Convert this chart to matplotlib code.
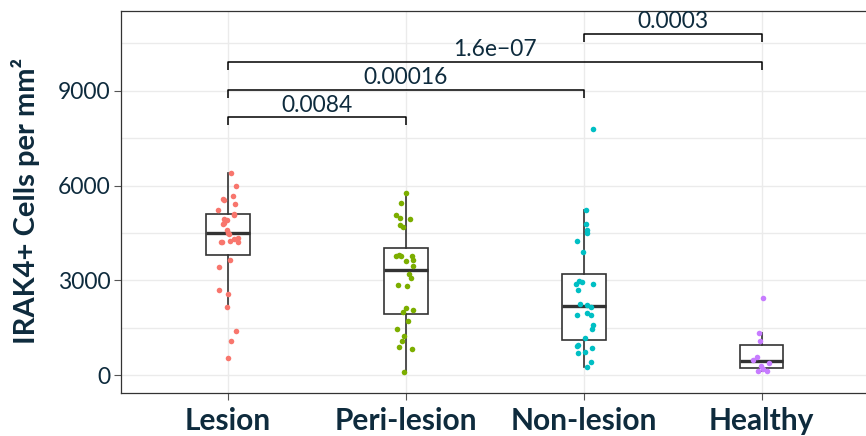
import matplotlib
matplotlib.use("Agg")
import matplotlib.pyplot as plt
import numpy as np

plt.rcParams['font.family'] = ['Lato', 'DejaVu Sans']

# values (cells per mm2)
groups = ['Lesion', 'Peri-lesion', 'Non-lesion', 'Healthy']
colors = ['#F8766D', '#7CAE00', '#00BFC4', '#C77CFF']

lesion = [6400, 5990, 5675, 5590, 5535, 5420, 5240, 5115, 5070, 4915, 4945,
          4800, 4770, 4610, 4505, 4475, 4350, 4295, 4250, 4210, 4210, 4230,
          3650, 3440, 2685, 2560, 2160, 1390, 1095, 547]
peri = [5757, 5463, 5074, 4958, 4947, 4737, 4684, 3758, 3768, 3810, 3780,
        3653, 3600, 3463, 3190, 3063, 2863, 2810, 2126, 2050, 2000, 1705,
        1463, 1232, 1074, 905, 821, 95]
nonles = [7777, 5220, 4778, 4588, 4484, 4241, 3905, 2990, 2958, 2895, 2895,
          2694, 2220, 2264, 2147, 1958, 1920, 1895, 1579, 1474, 1189, 916,
          947, 863, 748, 695, 421, 274]
healthy = [2431, 1326, 1074, 579, 485, 400, 300, 210, 126, 136]

# significance brackets: (from group, to group, height, label)
brackets = [(1, 2, 8160, '0.0084'),
            (1, 3, 9032, '0.00016'),
            (1, 4, 9918, '1.6e\u221207'),
            (3, 4, 10794, '0.0003')]

data = [lesion, peri, nonles, healthy]
txt_col = '#0E2B3D'
grid_col = '#EBEBEB'

fig = plt.figure(figsize=(8.66, 4.36), dpi=100)
ax = fig.add_axes([0.1401, 0.0993, 0.8627, 0.875])

pos = np.arange(1, len(groups) + 1)
ax.boxplot(data, positions=pos, widths=0.245, showfliers=False,
           patch_artist=True, zorder=2,
           boxprops=dict(facecolor='white', edgecolor='#333333', linewidth=1.2),
           whiskerprops=dict(color='#333333', linewidth=1.2),
           capprops=dict(linewidth=0),
           medianprops=dict(color='#333333', linewidth=2.4))

rng = np.random.default_rng(7)
for i, vals in enumerate(data):
    xs = pos[i] + rng.uniform(-0.055, 0.055, len(vals))
    ax.scatter(xs, vals, s=16, color=colors[i], linewidths=0, zorder=3)

for a, b, h, lab in brackets:
    ax.plot([a, a, b, b], [h - 250, h, h, h - 250], color='black', lw=1.1,
            zorder=4, solid_capstyle='butt')
    ax.text((a + b) / 2, h + 50, lab, ha='center', va='bottom', fontsize=16.4,
            color=txt_col)

ax.set_xlim(0.4, 4.6)
ax.set_ylim(-550, 11512)
ax.set_xticks(pos)
ax.set_xticklabels(groups, fontsize=21.5, fontweight='bold', color=txt_col)
ax.set_yticks([0, 3000, 6000, 9000])
ax.set_yticks([1500, 4500, 7500, 10500], minor=True)
ax.tick_params(axis='y', which='major', labelsize=16.5, labelcolor=txt_col,
               length=5, width=0.8, color='#555555', pad=3)
ax.tick_params(axis='y', which='minor', length=0)
ax.tick_params(axis='x', length=5, width=0.8, color='#555555', pad=5)
ax.grid(True, which='both', axis='y', color=grid_col, lw=1.0, zorder=0)
ax.grid(True, which='major', axis='x', color=grid_col, lw=1.0, zorder=0)
ax.set_axisbelow(True)
for sp in ax.spines.values():
    sp.set_color('#333333')
    sp.set_linewidth(0.9)

fig.text(26 / 866, 1 - 201 / 436, 'IRAK4+ Cells per mm\u00b2', rotation=90,
         ha='center', va='center', fontsize=21, fontweight='bold',
         color=txt_col)

fig.savefig('out.png', dpi=100)
